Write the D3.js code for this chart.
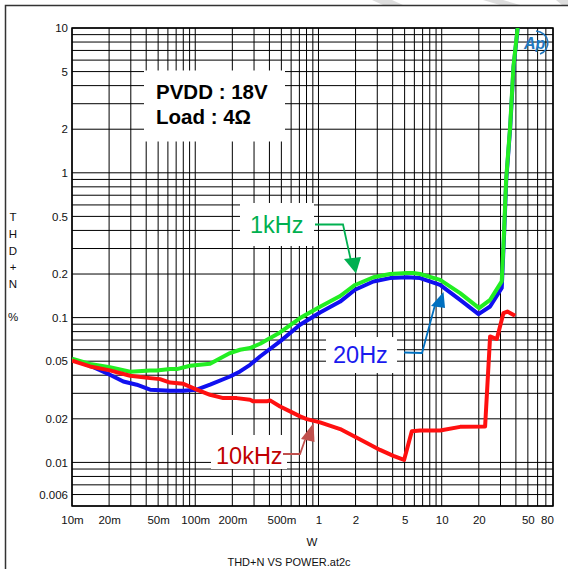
<!DOCTYPE html>
<html><head><meta charset="utf-8">
<script src="https://cdn.jsdelivr.net/npm/d3@7"></script>
<style>
html,body{margin:0;padding:0;background:#fff;}
svg{display:block;font-family:"Liberation Sans",Arial,sans-serif;}
</style></head>
<body><svg id="c" width="568" height="569"></svg>
<script>
// ---- data ----
const power1k = [0.01,0.014,0.0203,0.0296,0.043,0.0487,0.0625,0.0708,0.0907,0.1319,0.1916,0.231,0.2785,0.336,0.38,0.488,0.709,1.03,1.5,1.98,2.79,3.81,5.21,5.89,6.68,9.7,14.1,20.1,24.7,30.7,32.1,33.3,35.9,38.2,41.5];
const thd1k   = [0.052,0.0478,0.0455,0.0423,0.0432,0.0432,0.0441,0.0441,0.0465,0.048,0.0569,0.060,0.0616,0.066,0.070,0.079,0.0993,0.119,0.141,0.168,0.190,0.200,0.203,0.203,0.200,0.182,0.1476,0.1163,0.1327,0.178,0.404,0.89,2.08,5.41,10.4];

const power20 = [0.01,0.014,0.0203,0.0261,0.0335,0.043,0.0625,0.0801,0.1028,0.1319,0.1916,0.231,0.2785,0.3357,0.488,0.709,1.03,1.5,1.98,2.79,3.81,5.21,6.68,9.7,14.1,19.9,24.7,30.7,32.2,33.4,36.0,38.3,41.6];
const thd20   = [0.0512,0.0465,0.0403,0.0362,0.0344,0.0318,0.0313,0.0313,0.0318,0.0344,0.0392,0.0425,0.0472,0.0539,0.0685,0.0892,0.1085,0.129,0.1556,0.1776,0.1874,0.190,0.1874,0.1684,0.1327,0.1057,0.1193,0.160,0.40,0.89,2.08,5.41,10.4];

const power10k = [0.01,0.014,0.0203,0.0296,0.043,0.0518,0.0625,0.0801,0.1028,0.1319,0.169,0.2173,0.2785,0.296,0.3805,0.4047,0.488,0.588,0.709,0.804,1.03,1.5,2.18,3.16,4.05,4.95,5.72,6.68,9.7,14.1,22.5,24.7,28.0,31.7,34.1,39.4];
const thd10k   = [0.0504,0.046,0.0432,0.0397,0.0382,0.0376,0.0356,0.0349,0.0318,0.0293,0.0278,0.0278,0.0271,0.0264,0.0264,0.0268,0.0243,0.0225,0.0208,0.0199,0.0189,0.0170,0.0144,0.0122,0.0111,0.0104,0.0164,0.0166,0.0166,0.0176,0.0177,0.0741,0.0711,0.1074,0.110,0.1029];

const xTickValues = [0.01,0.02,0.05,0.1,0.2,0.5,1,2,5,10,20,50,80];
const xTickLabels = ["10m","20m","50m","100m","200m","500m","1","2","5","10","20","50","80"];
const yTickValues = [10,5,2,1,0.5,0.2,0.1,0.05,0.02,0.01,0.006];
const yTickLabels = ["10","5","2","1","0.5","0.2","0.1","0.05","0.02","0.01","0.006"];
const yTitleChars = ["T","H","D","+","N","%"];

// ---- layout ----
const svg = d3.select("#c");
const L=72, R=553, T=28, B=506;
const x = d3.scaleLog().domain([0.01,80]).range([L,R]);
const y = d3.scaleLog().domain([0.005,10]).range([B,T]);

// outer frame + faint watermark stripes
[[372,0,392,0,403,5,383,5],[483,0,503,0,520,5,500,5],[556,0,568,0,568,5,562,5]].forEach(p=>{
  svg.append("polygon").attr("points",`${p[0]},${p[1]} ${p[2]},${p[3]} ${p[4]},${p[5]} ${p[6]},${p[7]}`).attr("fill","#ddd");
});
svg.append("path").attr("d","M5.5,569 V5.5 H568").attr("fill","none").attr("stroke","#333").attr("stroke-width",1.5);

// grid values
function logGrid(lo,hi){const v=[];for(let e=-4;e<=3;e++){for(let k=1;k<=9;k++){const val=+(k*Math.pow(10,e)).toPrecision(6);if(val>=lo*0.9999&&val<=hi*1.0001)v.push(val);}}return v;}
const gx = logGrid(0.01,80), gy = logGrid(0.005,10);
const grid = svg.append("g");
grid.selectAll("line.v").data(gx).enter().append("line")
  .attr("x1",d=>x(d)).attr("x2",d=>x(d)).attr("y1",T).attr("y2",B)
  .attr("stroke","#000").attr("stroke-width",1);
grid.selectAll("line.h").data(gy).enter().append("line")
  .attr("y1",d=>y(d)).attr("y2",d=>y(d)).attr("x1",L).attr("x2",R)
  .attr("stroke","#000").attr("stroke-width",1);

// white label boxes (interrupt grid)
svg.append("rect").attr("x",144).attr("y",70.5).attr("width",141).attr("height",71).attr("fill","#fff");
svg.append("rect").attr("x",240).attr("y",203).attr("width",74).attr("height",43).attr("fill","#fff");
svg.append("rect").attr("x",326).attr("y",337).attr("width",71).attr("height",36).attr("fill","#fff");
svg.append("rect").attr("x",211).attr("y",435).attr("width",76).attr("height",34).attr("fill","#fff");

// plot border
svg.append("rect").attr("x",L).attr("y",T).attr("width",R-L).attr("height",B-T)
  .attr("fill","none").attr("stroke","#000").attr("stroke-width",1.5);

// axes (labels only)
const xAxis = d3.axisBottom(x).tickValues(xTickValues).tickFormat((d,i)=>xTickLabels[i]).tickSize(0).tickPadding(0);
const gxA = svg.append("g").attr("transform",`translate(0,${B})`).call(xAxis);
gxA.select(".domain").remove();
gxA.selectAll("text").attr("dy",null).attr("y",18).attr("font-size","11.5px").attr("fill","#111")
  .attr("font-family","'Liberation Sans',Arial,sans-serif");
gxA.selectAll(".tick").filter(d=>d===80).select("text").attr("dx",-6);

const yAxis = d3.axisLeft(y).tickValues(yTickValues).tickFormat((d,i)=>yTickLabels[i]).tickSize(0).tickPadding(4);
const gyA = svg.append("g").attr("transform",`translate(${L},0)`).call(yAxis);
gyA.select(".domain").remove();
gyA.selectAll("text").attr("font-size","11.5px").attr("fill","#111")
  .attr("font-family","'Liberation Sans',Arial,sans-serif");

// axis titles
const yTitleY = [217,233.5,250.5,267,284,316.5];
svg.append("g").selectAll("text").data(yTitleChars).enter().append("text")
  .attr("x",13).attr("y",(d,i)=>yTitleY[i]).attr("dy","0.35em").attr("text-anchor","middle")
  .attr("font-size","11.5px").attr("fill","#111").text(d=>d);
svg.append("text").attr("x",312).attr("y",546).attr("text-anchor","middle").attr("font-size","11.5px").attr("fill","#111").text("W");
svg.append("text").attr("x",289).attr("y",566).attr("text-anchor","middle").attr("font-size","11px").attr("fill","#111").text("THD+N VS POWER.at2c");

// PVDD box text
svg.append("text").attr("x",156).attr("y",98.5).attr("font-size","20.5px").attr("font-weight","bold").attr("fill","#000").text("PVDD : 18V");
svg.append("text").attr("x",156).attr("y",123.5).attr("font-size","20.5px").attr("font-weight","bold").attr("fill","#000").text("Load : 4Ω");

// curves
svg.append("clipPath").attr("id","clip").append("rect").attr("x",L).attr("y",T).attr("width",R-L).attr("height",B-T);
const line = d3.line().x(d=>x(d[0])).y(d=>y(d[1])).curve(d3.curveLinear);
const cg = svg.append("g").attr("clip-path","url(#clip)");
function drawSeries(px,py,color){
  cg.append("path").datum(px.map((p,i)=>[p,py[i]])).attr("d",line)
    .attr("fill","none").attr("stroke",color).attr("stroke-width",4)
    .attr("stroke-linejoin","round").attr("stroke-linecap","butt");
}
drawSeries(power20,thd20,"#1010f0");
drawSeries(power1k,thd1k,"#22ee22");
drawSeries(power10k,thd10k,"#ff1010");

// annotations
function ann(label,tx,ty,color,arrowColor,pts,tri){
  svg.append("text").attr("x",tx).attr("y",ty).attr("font-size","23.5px").attr("fill",color).text(label);
  svg.append("polyline").attr("points",pts.map(p=>p.join(",")).join(" ")).attr("fill","none")
    .attr("stroke",arrowColor).attr("stroke-width",1.8);
  svg.append("polygon").attr("points",tri.map(p=>p.join(",")).join(" ")).attr("fill",arrowColor);
}
ann("1kHz",250,233,"#00b050","#00b050",[[315,224.5],[343,224.5],[351,261]],[[344,259],[361,257],[356,273.5]]);
ann("20Hz",333,362.5,"#1a1aee","#0070c0",[[404,352.5],[422,353],[435,305]],[[431,306],[445,308],[443.5,292]]);
ann("10kHz",216,464,"#c00000","#c0504d",[[283,454],[300,454],[305,440]],[[301,439],[314.5,442],[313.5,423]]);

// Ap logo
const logo = svg.append("g").attr("fill","#1f78c1");
logo.append("text").attr("x",524).attr("y",49).attr("font-size","16px").attr("font-style","italic").attr("font-weight","bold").attr("fill","#1f78c1").text("Ap");
logo.append("path").attr("d","M536,31 A13,12 0 0 1 540,54").attr("fill","none").attr("stroke","#1f78c1").attr("stroke-width",1.5);
</script></body></html>
